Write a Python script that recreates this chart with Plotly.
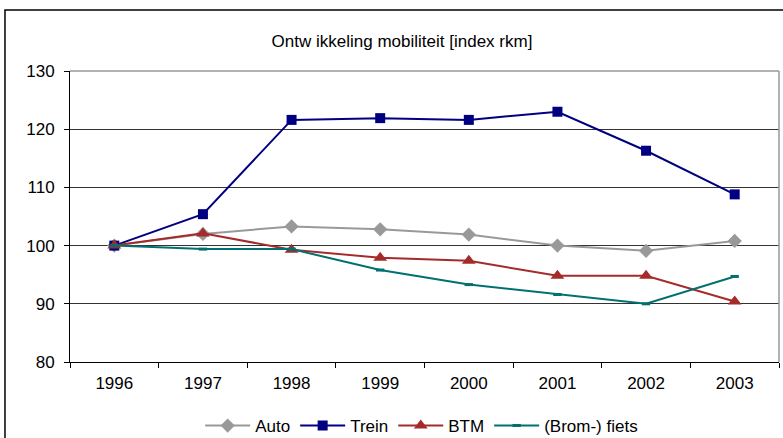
import plotly.graph_objects as go

years = ["1996", "1997", "1998", "1999", "2000", "2001", "2002", "2003"]
auto = [100.0, 102.0, 103.3, 102.8, 101.9, 100.0, 99.1, 100.8]
trein = [100.0, 105.4, 121.6, 121.9, 121.6, 123.0, 116.3, 108.8]
btm = [100.0, 102.1, 99.3, 97.9, 97.4, 94.8, 94.8, 90.4]
fiets = [100.0, 99.4, 99.4, 95.8, 93.3, 91.6, 90.0, 94.7]

yticks = [80, 90, 100, 110, 120, 130]
title_text = "Ontw ikkeling mobiliteit [index rkm]"

FONT = "Liberation Sans, Arial, sans-serif"
FS = 17

fig = go.Figure()
fig.add_trace(go.Scatter(x=years, y=auto, name="Auto", mode="lines+markers",
                         line=dict(color="#999999", width=2),
                         marker=dict(symbol="diamond", size=11, color="#999999")))
fig.add_trace(go.Scatter(x=years, y=trein, name="Trein", mode="lines+markers",
                         line=dict(color="#000080", width=2),
                         marker=dict(symbol="square", size=10, color="#000080")))
fig.add_trace(go.Scatter(x=years, y=btm, name="BTM", mode="lines+markers",
                         line=dict(color="#A52A2A", width=2),
                         marker=dict(symbol="triangle-up", size=12, color="#A52A2A")))
fig.add_trace(go.Scatter(x=years, y=fiets, name="(Brom-) fiets", mode="lines+markers",
                         line=dict(color="#007070", width=2),
                         marker=dict(symbol="line-ew", size=6, color="#007070",
                                     line=dict(color="#007070", width=3))))

fig.update_layout(
    width=783, height=438,
    margin=dict(l=70, r=4, t=71, b=76, autoexpand=False),
    paper_bgcolor="white", plot_bgcolor="white",
    font=dict(family=FONT, size=FS, color="black"),
    title=dict(text=title_text, x=402 / 783, xanchor="center",
               y=1 - 41 / 438, yanchor="middle",
               font=dict(family=FONT, size=FS, color="black")),
    showlegend=True,
    legend=dict(orientation="h", x=0.496, xanchor="center", y=-0.22, yanchor="middle",
                font=dict(family=FONT, size=FS), itemwidth=45, tracegroupgap=0),
    xaxis=dict(type="category", range=[-0.5, 7.5], showgrid=False,
               showline=True, linecolor="black", linewidth=1,
               ticks="outside", tickson="boundaries", ticklen=5, tickcolor="black",
               ticklabelstandoff=6, mirror=False, zeroline=False),
    yaxis=dict(range=[80, 130], tickvals=yticks, showgrid=True, gridcolor="#333333",
               gridwidth=1, showline=True, linecolor="black", linewidth=1,
               ticks="outside", ticklen=5, tickcolor="black", ticklabelstandoff=6,
               zeroline=False),
    shapes=[
        dict(type="rect", xref="paper", yref="paper", x0=-0.0917, x1=1.02,
             y0=-0.3, y1=1.2096, line=dict(color="black", width=1.5), layer="below"),
        dict(type="line", xref="paper", yref="paper", x0=0, x1=1, y0=1, y1=1,
             line=dict(color="#999999", width=1.5)),
        dict(type="line", xref="paper", yref="paper", x0=1, x1=1, y0=0, y1=1,
             line=dict(color="#999999", width=1.5)),
    ],
)

fig.write_html("out.html", config={"displayModeBar": False},
               post_script="document.body.style.margin='0';document.body.style.overflow='hidden';")
